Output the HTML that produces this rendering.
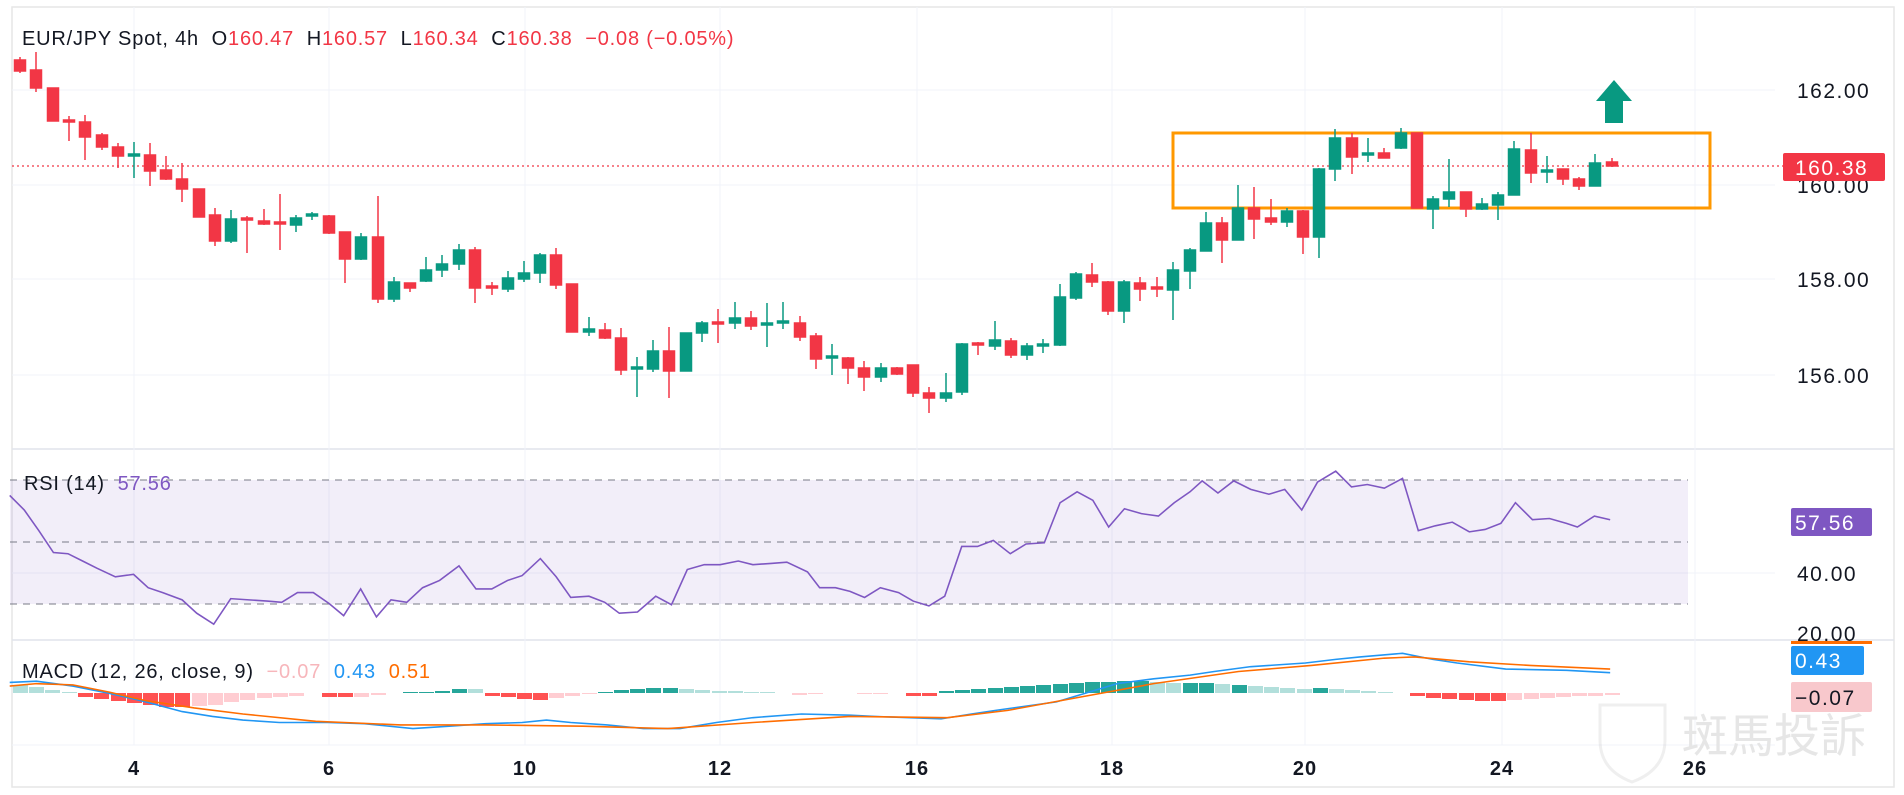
<!DOCTYPE html>
<html><head><meta charset="utf-8"><style>
html,body{margin:0;padding:0;background:#fff;width:1904px;height:795px;overflow:hidden}
svg{display:block}
text{font-family:"Liberation Sans","Noto Sans CJK TC",sans-serif}
</style></head><body>
<svg width="1904" height="795" viewBox="0 0 1904 795">
<rect width="1904" height="795" fill="#fff"/>
<rect x="12" y="7" width="1882" height="780" fill="none" stroke="#e6e6e6" stroke-width="1.5"/>
<line x1="12" y1="449" x2="1894" y2="449" stroke="#e0e3eb" stroke-width="1.5"/>
<line x1="12" y1="640" x2="1894" y2="640" stroke="#e0e3eb" stroke-width="1.5"/>
<g stroke="#f0f3fa" stroke-width="1">
<line x1="134" y1="7" x2="134" y2="745"/><line x1="329" y1="7" x2="329" y2="745"/>
<line x1="525" y1="7" x2="525" y2="745"/><line x1="720" y1="7" x2="720" y2="745"/>
<line x1="917" y1="7" x2="917" y2="745"/><line x1="1112" y1="7" x2="1112" y2="745"/>
<line x1="1305" y1="7" x2="1305" y2="745"/><line x1="1502" y1="7" x2="1502" y2="745"/>
<line x1="1695" y1="7" x2="1695" y2="745"/>
<line x1="12" y1="90" x2="1775" y2="90"/><line x1="12" y1="185" x2="1775" y2="185"/>
<line x1="12" y1="279" x2="1775" y2="279"/><line x1="12" y1="375" x2="1775" y2="375"/>
<line x1="12" y1="573" x2="1775" y2="573"/><line x1="12" y1="745" x2="1775" y2="745"/>
</g>
<g font-size="21" fill="#131722" letter-spacing="1.5">
<text x="1797" y="98">162.00</text><text x="1797" y="193">160.00</text>
<text x="1797" y="287">158.00</text><text x="1797" y="383">156.00</text>
<text x="1797" y="581">40.00</text><text x="1797" y="641">20.00</text>
</g>
<line x1="12" y1="166" x2="1783" y2="166" stroke="#f23645" stroke-width="1.2" stroke-dasharray="2,3"/>
<rect x="1783" y="153" width="102" height="28" rx="2" fill="#f23645"/>
<text x="1795" y="175" font-size="21" fill="#fff" letter-spacing="1.5">160.38</text>
<text x="22" y="45" font-size="20" fill="#131722" letter-spacing="0.8">EUR/JPY Spot, 4h&#160;&#160;O<tspan fill="#f23645">160.47</tspan>&#160;&#160;H<tspan fill="#f23645">160.57</tspan>&#160;&#160;L<tspan fill="#f23645">160.34</tspan>&#160;&#160;C<tspan fill="#f23645">160.38</tspan>&#160;&#160;<tspan fill="#f23645">−0.08 (−0.05%)</tspan></text>
<rect x="1173" y="133" width="537" height="75" fill="none" stroke="#ff9800" stroke-width="3"/>
<polygon points="1614,80 1632,101 1623,101 1623,123 1605,123 1605,101 1596,101" fill="#089981"/>
<g stroke-width="1.5">
<g stroke="#f23645" fill="#f23645">
<line x1="20" y1="57" x2="20" y2="73"/><rect x="14.5" y="60" width="11" height="11"/>
<line x1="36" y1="52" x2="36" y2="92"/><rect x="30.5" y="70" width="11" height="18"/>
<rect x="47.5" y="88" width="11" height="33"/>
<line x1="69" y1="116" x2="69" y2="141"/><rect x="63.5" y="120" width="11" height="2"/>
<line x1="85" y1="115" x2="85" y2="160"/><rect x="79.5" y="122" width="11" height="15"/>
<line x1="102" y1="133" x2="102" y2="150"/><rect x="96.5" y="135" width="11" height="12"/>
<line x1="118" y1="143" x2="118" y2="168"/><rect x="112.5" y="147" width="11" height="9"/>
<line x1="150" y1="143" x2="150" y2="186"/><rect x="144.5" y="155" width="11" height="16"/>
<line x1="166" y1="156" x2="166" y2="180"/><rect x="160.5" y="170" width="11" height="9"/>
<line x1="182" y1="163" x2="182" y2="202"/><rect x="176.5" y="179" width="11" height="10"/>
<rect x="193.5" y="189" width="11" height="28"/>
<line x1="215" y1="208" x2="215" y2="246"/><rect x="209.5" y="215" width="11" height="26"/>
<line x1="247" y1="216" x2="247" y2="253"/><rect x="241.5" y="218" width="11" height="2"/>
<line x1="264" y1="209" x2="264" y2="225"/><rect x="258.5" y="221" width="11" height="3"/>
<line x1="280" y1="194" x2="280" y2="250"/><rect x="274.5" y="222" width="11" height="2"/>
<line x1="329" y1="215" x2="329" y2="234"/><rect x="323.5" y="216" width="11" height="17"/>
<line x1="345" y1="232" x2="345" y2="283"/><rect x="339.5" y="232" width="11" height="27"/>
<line x1="378" y1="196" x2="378" y2="303"/><rect x="372.5" y="237" width="11" height="62"/>
<line x1="410" y1="283" x2="410" y2="292"/><rect x="404.5" y="283" width="11" height="5"/>
<line x1="475" y1="247" x2="475" y2="303"/><rect x="469.5" y="250" width="11" height="38"/>
<line x1="492" y1="282" x2="492" y2="295"/><rect x="486.5" y="286" width="11" height="2"/>
<line x1="556" y1="248" x2="556" y2="289"/><rect x="550.5" y="255" width="11" height="30"/>
<rect x="566.5" y="284" width="11" height="48"/>
<line x1="605" y1="323" x2="605" y2="339"/><rect x="599.5" y="330" width="11" height="8"/>
<line x1="621" y1="328" x2="621" y2="375"/><rect x="615.5" y="338" width="11" height="32"/>
<line x1="669" y1="327" x2="669" y2="398"/><rect x="663.5" y="351" width="11" height="20"/>
<line x1="718" y1="309" x2="718" y2="343"/><rect x="712.5" y="322" width="11" height="2"/>
<line x1="751" y1="311" x2="751" y2="330"/><rect x="745.5" y="318" width="11" height="8"/>
<line x1="800" y1="316" x2="800" y2="341"/><rect x="794.5" y="323" width="11" height="14"/>
<line x1="816" y1="333" x2="816" y2="369"/><rect x="810.5" y="336" width="11" height="23"/>
<line x1="848" y1="357" x2="848" y2="384"/><rect x="842.5" y="358" width="11" height="10"/>
<line x1="864" y1="361" x2="864" y2="391"/><rect x="858.5" y="368" width="11" height="9"/>
<line x1="897" y1="367" x2="897" y2="375"/><rect x="891.5" y="368" width="11" height="6"/>
<line x1="913" y1="365" x2="913" y2="397"/><rect x="907.5" y="365" width="11" height="28"/>
<line x1="929" y1="387" x2="929" y2="413"/><rect x="923.5" y="393" width="11" height="5"/>
<line x1="978" y1="342" x2="978" y2="355"/><rect x="972.5" y="343" width="11" height="2"/>
<line x1="1011" y1="338" x2="1011" y2="358"/><rect x="1005.5" y="341" width="11" height="14"/>
<line x1="1092" y1="263" x2="1092" y2="287"/><rect x="1086.5" y="275" width="11" height="7"/>
<line x1="1108" y1="281" x2="1108" y2="315"/><rect x="1102.5" y="282" width="11" height="29"/>
<line x1="1140" y1="277" x2="1140" y2="301"/><rect x="1134.5" y="283" width="11" height="6"/>
<line x1="1157" y1="277" x2="1157" y2="297"/><rect x="1151.5" y="287" width="11" height="2"/>
<line x1="1222" y1="217" x2="1222" y2="263"/><rect x="1216.5" y="223" width="11" height="17"/>
<line x1="1254" y1="187" x2="1254" y2="239"/><rect x="1248.5" y="208" width="11" height="11"/>
<line x1="1271" y1="199" x2="1271" y2="225"/><rect x="1265.5" y="218" width="11" height="4"/>
<line x1="1303" y1="210" x2="1303" y2="254"/><rect x="1297.5" y="211" width="11" height="26"/>
<line x1="1352" y1="133" x2="1352" y2="174"/><rect x="1346.5" y="138" width="11" height="19"/>
<line x1="1384" y1="148" x2="1384" y2="158"/><rect x="1378.5" y="153" width="11" height="5"/>
<rect x="1411.5" y="133" width="11" height="75"/>
<line x1="1466" y1="192" x2="1466" y2="217"/><rect x="1460.5" y="192" width="11" height="17"/>
<line x1="1531" y1="133" x2="1531" y2="183"/><rect x="1525.5" y="150" width="11" height="23"/>
<line x1="1563" y1="169" x2="1563" y2="185"/><rect x="1557.5" y="169" width="11" height="10"/>
<line x1="1579" y1="177" x2="1579" y2="190"/><rect x="1573.5" y="179" width="11" height="7"/>
<line x1="1612" y1="158" x2="1612" y2="167"/><rect x="1606.5" y="162" width="11" height="4"/>
</g>
<g stroke="#089981" fill="#089981">
<line x1="134" y1="142" x2="134" y2="178"/><rect x="128.5" y="154" width="11" height="2"/>
<line x1="231" y1="210" x2="231" y2="243"/><rect x="225.5" y="219" width="11" height="22"/>
<line x1="296" y1="215" x2="296" y2="232"/><rect x="290.5" y="218" width="11" height="7"/>
<line x1="312" y1="212" x2="312" y2="220"/><rect x="306.5" y="214" width="11" height="2"/>
<line x1="361" y1="233" x2="361" y2="260"/><rect x="355.5" y="237" width="11" height="22"/>
<line x1="394" y1="277" x2="394" y2="302"/><rect x="388.5" y="282" width="11" height="17"/>
<line x1="426" y1="257" x2="426" y2="282"/><rect x="420.5" y="270" width="11" height="11"/>
<line x1="442" y1="255" x2="442" y2="277"/><rect x="436.5" y="264" width="11" height="6"/>
<line x1="459" y1="244" x2="459" y2="270"/><rect x="453.5" y="250" width="11" height="14"/>
<line x1="508" y1="271" x2="508" y2="292"/><rect x="502.5" y="278" width="11" height="11"/>
<line x1="524" y1="261" x2="524" y2="282"/><rect x="518.5" y="273" width="11" height="6"/>
<line x1="540" y1="253" x2="540" y2="283"/><rect x="534.5" y="255" width="11" height="18"/>
<line x1="589" y1="317" x2="589" y2="336"/><rect x="583.5" y="329" width="11" height="3"/>
<line x1="637" y1="357" x2="637" y2="397"/><rect x="631.5" y="367" width="11" height="2"/>
<line x1="653" y1="340" x2="653" y2="372"/><rect x="647.5" y="351" width="11" height="18"/>
<rect x="680.5" y="333" width="11" height="38"/>
<line x1="702" y1="321" x2="702" y2="342"/><rect x="696.5" y="323" width="11" height="10"/>
<line x1="735" y1="302" x2="735" y2="329"/><rect x="729.5" y="318" width="11" height="5"/>
<line x1="767" y1="303" x2="767" y2="347"/><rect x="761.5" y="323" width="11" height="2"/>
<line x1="783" y1="302" x2="783" y2="329"/><rect x="777.5" y="321" width="11" height="2"/>
<line x1="832" y1="344" x2="832" y2="375"/><rect x="826.5" y="356" width="11" height="2"/>
<line x1="881" y1="363" x2="881" y2="382"/><rect x="875.5" y="368" width="11" height="9"/>
<line x1="946" y1="373" x2="946" y2="402"/><rect x="940.5" y="393" width="11" height="5"/>
<line x1="962" y1="343" x2="962" y2="395"/><rect x="956.5" y="344" width="11" height="48"/>
<line x1="995" y1="321" x2="995" y2="350"/><rect x="989.5" y="340" width="11" height="6"/>
<line x1="1027" y1="343" x2="1027" y2="360"/><rect x="1021.5" y="346" width="11" height="9"/>
<line x1="1043" y1="339" x2="1043" y2="353"/><rect x="1037.5" y="344" width="11" height="2"/>
<line x1="1060" y1="284" x2="1060" y2="346"/><rect x="1054.5" y="297" width="11" height="48"/>
<line x1="1076" y1="272" x2="1076" y2="300"/><rect x="1070.5" y="274" width="11" height="24"/>
<line x1="1124" y1="280" x2="1124" y2="323"/><rect x="1118.5" y="282" width="11" height="29"/>
<line x1="1173" y1="262" x2="1173" y2="320"/><rect x="1167.5" y="270" width="11" height="20"/>
<line x1="1190" y1="248" x2="1190" y2="289"/><rect x="1184.5" y="250" width="11" height="21"/>
<line x1="1206" y1="212" x2="1206" y2="251"/><rect x="1200.5" y="223" width="11" height="28"/>
<line x1="1238" y1="185" x2="1238" y2="240"/><rect x="1232.5" y="208" width="11" height="32"/>
<line x1="1287" y1="208" x2="1287" y2="227"/><rect x="1281.5" y="211" width="11" height="11"/>
<line x1="1319" y1="168" x2="1319" y2="258"/><rect x="1313.5" y="169" width="11" height="68"/>
<line x1="1335" y1="129" x2="1335" y2="181"/><rect x="1329.5" y="138" width="11" height="31"/>
<line x1="1368" y1="138" x2="1368" y2="162"/><rect x="1362.5" y="153" width="11" height="2"/>
<line x1="1401" y1="128" x2="1401" y2="149"/><rect x="1395.5" y="133" width="11" height="15"/>
<line x1="1433" y1="196" x2="1433" y2="229"/><rect x="1427.5" y="199" width="11" height="10"/>
<line x1="1449" y1="159" x2="1449" y2="207"/><rect x="1443.5" y="192" width="11" height="7"/>
<line x1="1482" y1="198" x2="1482" y2="210"/><rect x="1476.5" y="204" width="11" height="5"/>
<line x1="1498" y1="192" x2="1498" y2="220"/><rect x="1492.5" y="195" width="11" height="10"/>
<line x1="1514" y1="141" x2="1514" y2="195"/><rect x="1508.5" y="149" width="11" height="46"/>
<line x1="1547" y1="156" x2="1547" y2="183"/><rect x="1541.5" y="170" width="11" height="2"/>
<line x1="1595" y1="154" x2="1595" y2="186"/><rect x="1589.5" y="163" width="11" height="23"/>
</g>
</g>
<rect x="10" y="480" width="1678" height="124" fill="#7e57c2" fill-opacity="0.1"/>
<g stroke="#787b86" stroke-width="1" stroke-dasharray="7,6">
<line x1="10" y1="480" x2="1688" y2="480"/><line x1="10" y1="542" x2="1688" y2="542"/><line x1="10" y1="604" x2="1688" y2="604"/>
</g>
<g transform="scale(1.2143)">
<polyline fill="none" stroke="#7e57c2" stroke-width="1.3" points="8,408 20,420 32,437 44,455 56,456 68,462 80,468 95,475 110,473 122,484 134,488 150,494 162,505 176,514 190,493 205,494 220,495 232,496 245,488 258,488 271,497 283,507 297,485 310,508 322,494 335,496 348,484 362,478 378,466 392,485 405,485 418,478 430,474 445,460 458,475 470,492 485,491 498,496 510,505 525,504 540,491 553,498 566,469 580,465 593,465 608,462 620,465 635,464 648,463 665,471 675,484 688,484 700,487 712,492 725,484 740,488 752,495 765,499 778,491 792,450 805,450 818,445 832,456 845,448 860,447 873,414 887,405 900,412 913,434 926,419 940,423 954,425 967,414 980,405 990,396 1003,406 1016,396 1030,403 1045,407 1058,403 1072,420 1085,397 1100,388 1113,401 1126,399 1140,402 1155,394 1168,437 1182,433 1196,430 1210,438 1223,436 1236,431 1248,414 1262,428 1276,427 1290,431 1299,434 1313,425 1326,428"/>
</g>
<text x="24" y="490" font-size="20" fill="#131722" letter-spacing="0.8">RSI (14)&#160;&#160;<tspan fill="#7e57c2">57.56</tspan></text>
<rect x="1791" y="508" width="81" height="28" rx="2" fill="#7e57c2"/>
<text x="1795" y="530" font-size="21" fill="#fff" letter-spacing="1.5">57.56</text>
<g>
<rect x="13" y="685" width="15" height="8" fill="#b2dfdb"/>
<rect x="29" y="687" width="15" height="6" fill="#b2dfdb"/>
<rect x="45" y="690" width="15" height="3" fill="#b2dfdb"/>
<rect x="62" y="692" width="15" height="1" fill="#b2dfdb"/>
<g fill="#ff5252">
<rect x="78" y="693" width="15" height="4"/><rect x="94" y="693" width="15" height="6"/>
<rect x="111" y="693" width="15" height="8"/><rect x="127" y="693" width="15" height="10"/>
<rect x="143" y="693" width="15" height="12"/><rect x="159" y="693" width="15" height="14"/>
<rect x="175" y="693" width="15" height="14"/>
<rect x="322" y="693" width="15" height="4"/><rect x="338" y="693" width="15" height="4"/>
<rect x="485" y="693" width="15" height="3"/><rect x="501" y="693" width="15" height="4"/>
<rect x="517" y="693" width="15" height="6"/><rect x="533" y="693" width="15" height="7"/>
<rect x="906" y="693" width="15" height="3"/><rect x="922" y="693" width="15" height="3"/>
<rect x="1410" y="693" width="15" height="3"/><rect x="1426" y="693" width="15" height="5"/>
<rect x="1442" y="693" width="15" height="6"/><rect x="1459" y="693" width="15" height="7"/>
<rect x="1475" y="693" width="15" height="8"/><rect x="1491" y="693" width="15" height="8"/>
</g>
<g fill="#ffcdd2">
<rect x="192" y="693" width="15" height="13"/><rect x="208" y="693" width="15" height="12"/>
<rect x="224" y="693" width="15" height="9"/><rect x="240" y="693" width="15" height="7"/>
<rect x="257" y="693" width="15" height="5"/><rect x="273" y="693" width="15" height="4"/>
<rect x="289" y="693" width="15" height="3"/><rect x="354" y="693" width="15" height="4"/>
<rect x="371" y="693" width="15" height="2"/>
<rect x="549" y="693" width="15" height="5"/><rect x="565" y="693" width="15" height="3"/>
<rect x="582" y="693" width="15" height="1"/>
<rect x="792" y="693" width="15" height="2"/><rect x="808" y="693" width="15" height="1"/>
<rect x="857" y="693" width="15" height="1"/><rect x="873" y="693" width="15" height="1"/>
<rect x="1507" y="693" width="15" height="7"/><rect x="1524" y="693" width="15" height="6"/>
<rect x="1540" y="693" width="15" height="5"/><rect x="1556" y="693" width="15" height="4"/>
<rect x="1572" y="693" width="15" height="3"/><rect x="1588" y="693" width="15" height="3"/>
<rect x="1605" y="693" width="15" height="2"/>
</g>
<g fill="#26a69a">
<rect x="403" y="692" width="15" height="1"/><rect x="419" y="692" width="15" height="1"/>
<rect x="435" y="691" width="15" height="2"/><rect x="452" y="689" width="15" height="4"/>
<rect x="598" y="692" width="15" height="1"/><rect x="614" y="690" width="15" height="3"/>
<rect x="630" y="689" width="15" height="4"/><rect x="646" y="688" width="15" height="5"/>
<rect x="663" y="688" width="15" height="5"/>
<rect x="939" y="691" width="15" height="2"/><rect x="955" y="690" width="15" height="3"/>
<rect x="971" y="689" width="15" height="4"/><rect x="988" y="688" width="15" height="5"/>
<rect x="1004" y="687" width="15" height="6"/><rect x="1020" y="686" width="15" height="7"/>
<rect x="1036" y="685" width="15" height="8"/><rect x="1053" y="684" width="15" height="9"/>
<rect x="1069" y="683" width="15" height="10"/><rect x="1085" y="682" width="15" height="11"/>
<rect x="1101" y="682" width="15" height="11"/><rect x="1117" y="681" width="15" height="12"/>
<rect x="1134" y="681" width="15" height="12"/>
<rect x="1183" y="683" width="15" height="10"/><rect x="1199" y="683" width="15" height="10"/>
<rect x="1232" y="685" width="15" height="8"/><rect x="1313" y="688" width="15" height="5"/>
</g>
<g fill="#b2dfdb">
<rect x="468" y="689" width="15" height="4"/>
<rect x="679" y="689" width="15" height="4"/><rect x="695" y="690" width="15" height="3"/>
<rect x="712" y="691" width="15" height="2"/><rect x="728" y="691" width="15" height="2"/>
<rect x="744" y="692" width="15" height="1"/><rect x="760" y="692" width="15" height="1"/>
<rect x="1150" y="682" width="15" height="11"/><rect x="1166" y="683" width="15" height="10"/>
<rect x="1215" y="684" width="15" height="9"/><rect x="1248" y="686" width="15" height="7"/>
<rect x="1264" y="687" width="15" height="6"/><rect x="1280" y="688" width="15" height="5"/>
<rect x="1297" y="689" width="15" height="4"/><rect x="1329" y="689" width="15" height="4"/>
<rect x="1345" y="690" width="15" height="3"/><rect x="1361" y="691" width="15" height="2"/>
<rect x="1378" y="692" width="15" height="1"/>
</g>
</g>
<g transform="scale(1.2143)" fill="none" stroke-width="1.3">
<polyline stroke="#2196f3" points="8,562 30,561 60,565 90,571 120,578 150,586 175,590 200,593 230,595 270,595 300,596 340,600 370,598 400,596 430,595 450,593 470,595 500,597 530,600 560,600 590,595 620,591 660,588 700,589 720,590 775,592 800,588 820,585 870,578 890,572 920,563 950,559 980,556 1000,553 1030,549 1075,546 1100,543 1120,541 1155,538 1180,543 1200,546 1240,551 1290,552 1326,554"/>
<polyline stroke="#ff6d00" points="8,565 30,563 60,564 90,570 120,577 160,583 200,588 260,594 330,597 400,597 480,598 550,600 620,595 700,590 780,591 830,585 890,574 950,563 1020,553 1080,548 1140,542 1165,541 1210,545 1260,548 1326,551"/>
</g>
<text x="22" y="678" font-size="20" fill="#131722" letter-spacing="0.8">MACD (12, 26, close, 9)&#160;&#160;<tspan fill="#f7b6bb">−0.07</tspan>&#160;&#160;<tspan fill="#2196f3">0.43</tspan>&#160;&#160;<tspan fill="#ff6d00">0.51</tspan></text>
<rect x="1791" y="641" width="81" height="3" fill="#ff6d00"/>
<rect x="1791" y="646" width="73" height="29" rx="2" fill="#2196f3"/>
<text x="1795" y="668" font-size="21" fill="#fff" letter-spacing="1.5">0.43</text>
<rect x="1791" y="682" width="81" height="30" rx="2" fill="#f8c8cc"/>
<text x="1795" y="705" font-size="21" fill="#131722" letter-spacing="1.5">−0.07</text>
<g opacity="0.3" fill="none" stroke="#c9c9c9" stroke-width="3">
<path d="M1600,705 L1665,705 L1665,740 Q1665,770 1632,782 Q1600,770 1600,740 Z"/>
</g>
<text x="1682" y="752" font-size="46" fill="#e6e6e6" font-family="'Noto Sans CJK TC',sans-serif">斑馬投訴</text>
<g font-size="20" fill="#131722" font-weight="bold" text-anchor="middle" letter-spacing="1">
<text x="134" y="775">4</text><text x="329" y="775">6</text><text x="525" y="775">10</text>
<text x="720" y="775">12</text><text x="917" y="775">16</text><text x="1112" y="775">18</text>
<text x="1305" y="775">20</text><text x="1502" y="775">24</text><text x="1695" y="775">26</text>
</g>
</svg>
</body></html>
